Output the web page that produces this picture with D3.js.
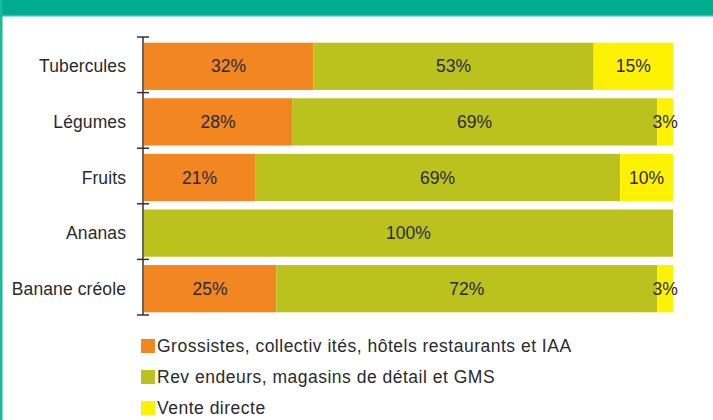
<!DOCTYPE html>
<html><head><meta charset="utf-8">
<script src="https://cdnjs.cloudflare.com/ajax/libs/d3/7.8.5/d3.min.js"></script>
<style>
html,body{margin:0;padding:0;background:#fff;}
svg{display:block;font-family:"Liberation Sans",Arial,sans-serif;}
</style></head>
<body><svg id="c" width="713" height="420"></svg>
<script>
const categories = ["Tubercules","Légumes","Fruits","Ananas","Banane créole"];
const seriesNames = ["Grossistes, collectiv ités, hôtels restaurants et IAA","Rev endeurs, magasins de détail et GMS","Vente directe"];
const grossistes = [32,28,21,0,25];
const revendeurs = [53,69,69,100,72];
const venteDirecte = [15,3,10,0,3];
const colors = ["#F28620","#BBC21E","#FFF200"];

const svg = d3.select("#c");
// frame
svg.append("rect").attr("x",0).attr("y",0).attr("width",713).attr("height",15).attr("fill","#00AC8E");
svg.append("rect").attr("x",0).attr("y",15).attr("width",713).attr("height",1.5).attr("fill","#3DBFA3");
svg.append("rect").attr("x",0).attr("y",0).attr("width",2.5).attr("height",420).attr("fill","#1DB89A");

const y = d3.scaleBand().domain(categories).range([37,315]).paddingInner(0.15).paddingOuter(0.075);
const x = d3.scaleLinear().domain([0,100]).range([144,673]);

const series = [grossistes, revendeurs, venteDirecte];
const rows = categories.map((c,i)=>({cat:c, vals:series.map(s=>s[i])}));
const g = svg.append("g");
rows.forEach(r=>{
  let acc=0;
  r.vals.forEach((v,k)=>{
    if(v<=0) return;
    const x0=x(acc), x1=x(acc+v);
    g.append("rect").attr("x",x0).attr("y",y(r.cat)+1.5).attr("width",x1-x0).attr("height",y.bandwidth())
      .attr("fill",colors[k]);
    g.append("text").attr("x",(x0+x1)/2).attr("y",y(r.cat)+1.5+y.bandwidth()/2).attr("dy","0.35em")
      .attr("text-anchor","middle").attr("font-size",17.5).attr("fill","#2a2a2a").text(v+"%");
    acc+=v;
  });
});

// axis
const ax = svg.append("g");
ax.append("line").attr("x1",143).attr("x2",143).attr("y1",y.range()[0]).attr("y2",y.range()[1]).attr("stroke","#333").attr("stroke-width",1.5);
const step=y.step();
d3.range(categories.length+1).forEach(i=>{
  const ty = y.range()[0]+i*step;
  ax.append("line").attr("x1",137).attr("x2",149).attr("y1",ty).attr("y2",ty).attr("stroke","#333").attr("stroke-width",1.5);
});
categories.forEach(c=>{
  ax.append("text").attr("x",126).attr("y",y(c)+1.5+y.bandwidth()/2).attr("dy","0.35em")
    .attr("text-anchor","end").attr("font-size",17.5).attr("letter-spacing",0.1).attr("fill","#2a2a2a").text(c);
});

// legend
const leg = svg.append("g");
seriesNames.forEach((n,i)=>{
  const cy = 346+i*31;
  leg.append("rect").attr("x",141).attr("y",cy-7).attr("width",14).attr("height",14).attr("fill",colors[i]);
  leg.append("text").attr("x",157).attr("y",cy).attr("dy","0.35em").attr("font-size",17.5)
    .attr("letter-spacing",0.5).attr("fill","#2a2a2a").text(n);
});
</script></body></html>
